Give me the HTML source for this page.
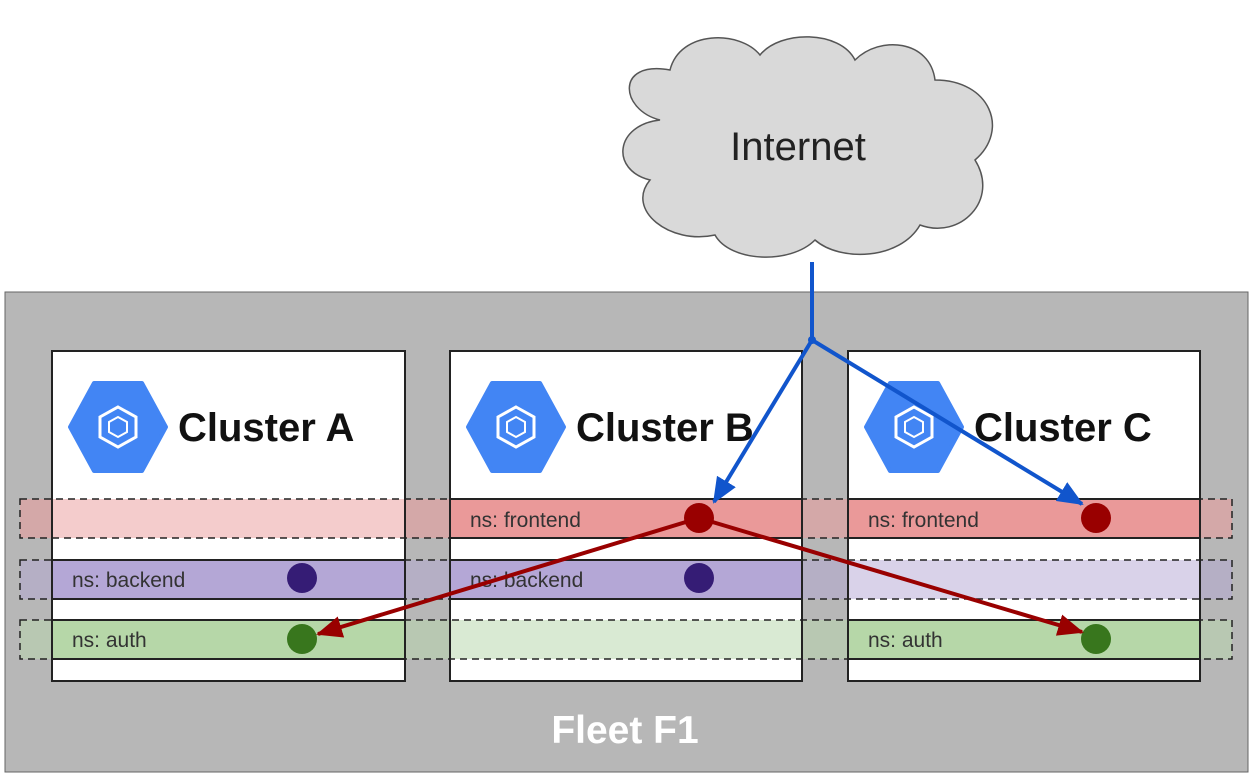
<!DOCTYPE html>
<html><head><style>body{margin:0;background:#fff}svg{display:block}</style></head><body>
<svg width="1250" height="775" viewBox="0 0 1250 775" font-family="Liberation Sans, sans-serif">
<defs>
<marker id="ab" markerWidth="26" markerHeight="22" refX="24" refY="11" orient="auto" markerUnits="userSpaceOnUse" viewBox="0 0 26 22"><path d="M0,0 L26,11 L0,22z" fill="#1155cc"/></marker>
<marker id="ar" markerWidth="26" markerHeight="22" refX="24" refY="11" orient="auto" markerUnits="userSpaceOnUse" viewBox="0 0 26 22"><path d="M0,0 L26,11 L0,22z" fill="#990000"/></marker>
<g id="hex"><polygon points="-48,0 -24,-44 24,-44 48,0 24,44 -24,44" fill="#4285f4" stroke="#4285f4" stroke-width="4" stroke-linejoin="round"/><polygon points="0,-20 18,-10 18,10 0,20 -18,10 -18,-10" fill="none" stroke="#fff" stroke-width="3"/><polygon points="0,-10 9,-5 9,5 0,10 -9,5 -9,-5" fill="none" stroke="#fff" stroke-width="2"/></g>
</defs>
<path d="M660,120 C620,110 615,60 670,70 C680,30 740,30 760,55 C780,30 840,30 855,60 C880,35 930,40 935,80 C990,80 1010,130 975,160 C1000,200 960,240 920,225 C900,260 840,262 815,240 C790,265 730,262 715,235 C670,245 625,210 650,180 C610,170 615,125 660,120Z" fill="#d9d9d9" stroke="#555" stroke-width="1.5"/>
<text x="798" y="160" font-size="40" text-anchor="middle" fill="#222">Internet</text>
<rect x="5" y="292" width="1243" height="480" fill="#b7b7b7" stroke="#666" stroke-width="1"/>
<rect x="20" y="499" width="1212" height="39" fill="#d4a8a8"/>
<rect x="20" y="560" width="1212" height="39" fill="#b5afc5"/>
<rect x="20" y="620" width="1212" height="39" fill="#b8c8b2"/>
<g stroke="#222" stroke-width="2">
<rect x="52" y="351" width="353" height="330" fill="#fff"/>
<rect x="450" y="351" width="352" height="330" fill="#fff"/>
<rect x="848" y="351" width="352" height="330" fill="#fff"/>
</g>
<g stroke-width="2">
<rect x="53" y="499" width="351" height="39" fill="#f4cccc"/>
<rect x="52" y="560" width="353" height="39" fill="#b4a7d6" stroke="#222"/>
<rect x="52" y="620" width="353" height="39" fill="#b6d7a8" stroke="#222"/>
<rect x="450" y="499" width="352" height="39" fill="#ea9999" stroke="#222"/>
<rect x="450" y="560" width="352" height="39" fill="#b4a7d6" stroke="#222"/>
<rect x="451" y="620" width="350" height="39" fill="#d9ead3"/>
<rect x="848" y="499" width="352" height="39" fill="#ea9999" stroke="#222"/>
<rect x="849" y="560" width="350" height="39" fill="#d9d2e9"/>
<rect x="848" y="620" width="352" height="39" fill="#b6d7a8" stroke="#222"/>
</g>
<g fill="none" stroke="#222" stroke-width="1.5" stroke-dasharray="7,5">
<rect x="20" y="499" width="1212" height="39"/>
<rect x="20" y="560" width="1212" height="39"/>
<rect x="20" y="620" width="1212" height="39"/>
</g>
<g font-size="21" fill="#333">
<text x="72" y="587">ns: backend</text><text x="72" y="647">ns: auth</text>
<text x="470" y="527">ns: frontend</text><text x="470" y="587">ns: backend</text>
<text x="868" y="527">ns: frontend</text><text x="868" y="647">ns: auth</text>
</g>
<use href="#hex" x="118" y="427"/><use href="#hex" x="516" y="427"/><use href="#hex" x="914" y="427"/>
<g font-size="40" font-weight="bold" fill="#111">
<text x="178" y="441">Cluster A</text><text x="576" y="441">Cluster B</text><text x="974" y="441">Cluster C</text>
</g>
<text x="625" y="743" font-size="39" font-weight="bold" fill="#fff" text-anchor="middle">Fleet F1</text>
<circle cx="699" cy="518" r="15" fill="#990000"/><circle cx="1096" cy="518" r="15" fill="#990000"/>
<circle cx="302" cy="578" r="15" fill="#351c75"/><circle cx="699" cy="578" r="15" fill="#351c75"/>
<circle cx="302" cy="639" r="15" fill="#38761d"/><circle cx="1096" cy="639" r="15" fill="#38761d"/>
<g stroke="#1155cc" stroke-width="4" fill="none">
<path d="M812,262 L812,340"/>
<path d="M812,340 L714,502" marker-end="url(#ab)"/>
<path d="M812,340 L1082,504" marker-end="url(#ab)"/>
</g>
<circle cx="812" cy="340" r="4" fill="#1155cc"/>
<g stroke="#990000" stroke-width="4" fill="none">
<path d="M699,518 L318,634" marker-end="url(#ar)"/>
<path d="M699,518 L1082,632" marker-end="url(#ar)"/>
</g>
</svg>
</body></html>
